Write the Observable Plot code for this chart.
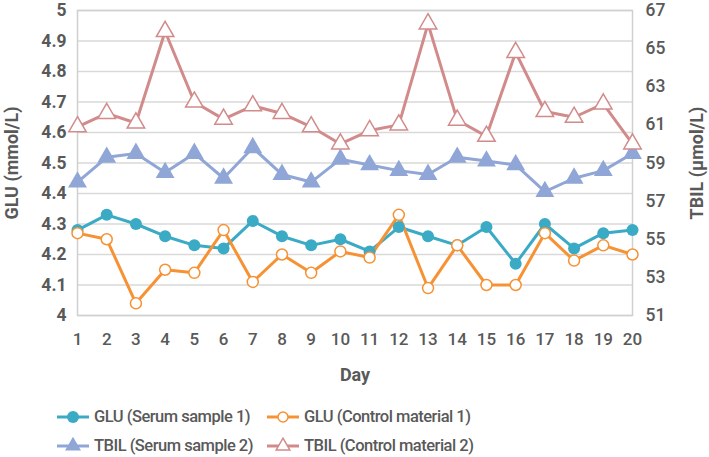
<!DOCTYPE html>
<html>
<head>
<meta charset="utf-8">
<script src="https://cdn.jsdelivr.net/npm/d3@7"></script>
<script src="https://cdn.jsdelivr.net/npm/@observablehq/plot@0.6"></script>
<style>
  html, body { margin: 0; padding: 0; background: #fff; }
  body { width: 709px; font-family: Roboto, "Liberation Sans", sans-serif; }
  #chart svg { overflow: visible; display: block; }
  #legend { position: relative; height: 59px; font-size: 16.5px; font-weight: 500; color: #595959; line-height: 20px; letter-spacing: -0.5px; }
  .item { position: absolute; display: flex; align-items: center; white-space: nowrap; height: 24px; }
  .item svg { margin-right: 5px; display: block; }
</style>
</head>
<body>
<div id="chart"></div>
<div id="legend"></div>
<script>
const days = d3.range(1, 21);
const gluSerum1   = [4.28, 4.33, 4.30, 4.26, 4.23, 4.22, 4.31, 4.26, 4.23, 4.25, 4.21, 4.29, 4.26, 4.23, 4.29, 4.17, 4.30, 4.22, 4.27, 4.28];
const gluControl1 = [4.27, 4.25, 4.04, 4.15, 4.14, 4.28, 4.11, 4.20, 4.14, 4.21, 4.19, 4.33, 4.09, 4.23, 4.10, 4.10, 4.27, 4.18, 4.23, 4.20];
const tbilSerum2   = [58.0, 59.3, 59.5, 58.5, 59.5, 58.2, 59.8, 58.4, 58.0, 59.2, 58.9, 58.6, 58.4, 59.3, 59.1, 58.9, 57.5, 58.2, 58.6, 59.5];
const tbilControl2 = [60.9, 61.6, 61.1, 65.9, 62.2, 61.3, 62.0, 61.6, 60.9, 60.0, 60.7, 61.0, 66.3, 61.25, 60.4, 64.8, 61.7, 61.4, 62.1, 60.0];
const gluTicks  = [4, 4.1, 4.2, 4.3, 4.4, 4.5, 4.6, 4.7, 4.8, 4.9, 5];
const tbilTicks = [51, 53, 55, 57, 59, 61, 63, 65, 67];
const seriesNames = ["GLU (Serum sample 1)", "GLU (Control material 1)", "TBIL (Serum sample 2)", "TBIL (Control material 2)"];
const colors = ["#3aaac5", "#f79234", "#8fa6d7", "#d28b8b"];

// secondary axis: TBIL [51,67] shares the GLU [4,5] range
const toGlu = t => 4 + (t - 51) / 16;
const toTbil = g => 51 + (g - 4) * 16;

const rows = [];
days.forEach((d, i) => {
  rows.push({day: d, v: gluSerum1[i], s: seriesNames[0]});
  rows.push({day: d, v: gluControl1[i], s: seriesNames[1]});
  rows.push({day: d, v: toGlu(tbilSerum2[i]), s: seriesNames[2]});
  rows.push({day: d, v: toGlu(tbilControl2[i]), s: seriesNames[3]});
});
const sel = k => rows.filter(r => r.s === seriesNames[k]);

const font = "Roboto, 'Liberation Sans', sans-serif";
const chart = Plot.plot({
  width: 709,
  height: 398,
  marginLeft: 77,
  marginRight: 77,
  marginTop: 10,
  marginBottom: 83,
  style: {fontFamily: font, fontSize: "17px", fontWeight: 500, color: "#595959", background: "#fff"},
  x: {domain: [1, 20]},
  y: {domain: [4, 5]},
  marks: [
    Plot.gridY(gluTicks, {stroke: "#d9d9d9", strokeOpacity: 1, strokeWidth: 1.5}),
    Plot.frame({stroke: "#d0d0d0", strokeWidth: 1.5}),
    Plot.axisX(days, {tickSize: 0, tickPadding: 17, fill: "#595959", fontSize: 17, label: null}),
    Plot.axisX({label: "Day", labelAnchor: "center", labelArrow: "none", labelOffset: 65, ticks: [], fill: "#595959", fontSize: 18, fontWeight: 700}),
    Plot.axisY(gluTicks, {anchor: "left", tickSize: 0, tickPadding: 11, tickFormat: d => String(+d.toFixed(1)), label: null, fill: "#595959", fontSize: 17.5, fontWeight: 700}),
    Plot.axisY({anchor: "left", ticks: [], label: "GLU (mmol/L)", labelAnchor: "center", labelArrow: "none", labelOffset: 72, fill: "#595959", fontSize: 18, fontWeight: 700}),
    Plot.axisY(tbilTicks.map(toGlu), {anchor: "right", tickSize: 0, tickPadding: 13, tickFormat: d => String(Math.round(toTbil(d))), label: null, fill: "#595959", fontSize: 17.5}),
    Plot.axisY({anchor: "right", ticks: [], label: "TBIL (μmol/L)", labelAnchor: "center", labelArrow: "none", labelOffset: 70, fill: "#595959", fontSize: 18, fontWeight: 700}),
    Plot.line(sel(0), {x: "day", y: "v", stroke: colors[0], strokeWidth: 3}),
    Plot.line(sel(1), {x: "day", y: "v", stroke: colors[1], strokeWidth: 3}),
    Plot.line(sel(2), {x: "day", y: "v", stroke: colors[2], strokeWidth: 3}),
    Plot.line(sel(3), {x: "day", y: "v", stroke: colors[3], strokeWidth: 3}),
    Plot.dot(sel(0), {x: "day", y: "v", r: 6, fill: colors[0], stroke: "none"}),
    Plot.dot(sel(1), {x: "day", y: "v", r: 5.5, fill: "#fff", stroke: colors[1], strokeWidth: 1.5}),
    Plot.dot(sel(2), {x: "day", y: "v", r: 7, symbol: "triangle", fill: colors[2], stroke: "none"}),
    Plot.dot(sel(3), {x: "day", y: "v", r: 6.5, symbol: "triangle", fill: "#fff", stroke: colors[3], strokeWidth: 1.5})
  ]
});
document.getElementById("chart").appendChild(chart);

// legend
const legend = d3.select("#legend");
const pos = [[57, 19], [267, 19], [57, 48], [267, 48]];
seriesNames.forEach((name, k) => {
  const it = legend.append("div").attr("class", "item")
    .style("left", pos[k][0] + "px").style("top", (pos[k][1] - 12) + "px");
  const s = it.append("svg").attr("width", 32).attr("height", 24);
  s.append("line").attr("x1", 0).attr("x2", 32).attr("y1", 12).attr("y2", 12)
    .attr("stroke", colors[k]).attr("stroke-width", 3);
  const filled = k === 0 || k === 2;
  if (k < 2) {
    s.append("circle").attr("cx", 16).attr("cy", 12).attr("r", filled ? 6 : 5)
      .attr("fill", filled ? colors[k] : "#fff").attr("stroke", filled ? "none" : colors[k]).attr("stroke-width", 1.5);
  } else {
    s.append("path").attr("d", d3.symbol(d3.symbolTriangle, filled ? 110 : 80)())
      .attr("transform", "translate(16,12)")
      .attr("fill", filled ? colors[k] : "#fff").attr("stroke", filled ? "none" : colors[k]).attr("stroke-width", 1.5);
  }
  it.append("span").text(name);
});
</script>
</body>
</html>
